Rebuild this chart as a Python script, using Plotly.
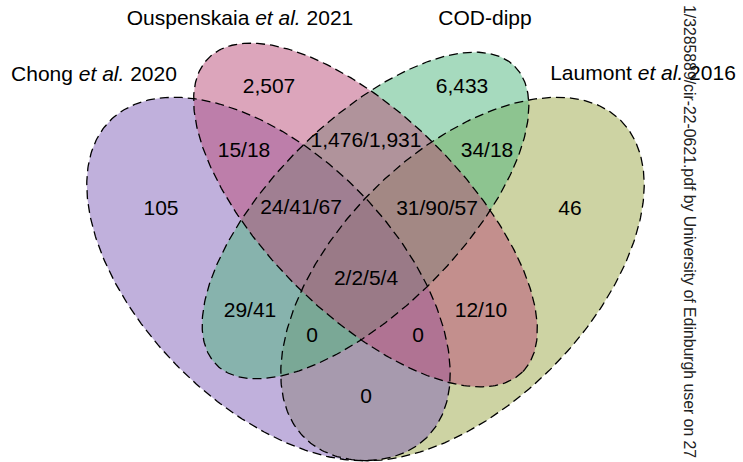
import numpy as np
import plotly.graph_objects as go

# ---- data -------------------------------------------------------------
set_names = [
    "Chong <i>et al.</i> 2020",
    "Ouspenskaia <i>et al.</i> 2021",
    "COD-dipp",
    "Laumont <i>et al.</i> 2016",
]
region_labels = [
    "2,507", "6,433", "105", "46",
    "15/18", "1,476/1,931", "34/18",
    "24/41/67", "31/90/57", "2/2/5/4",
    "29/41", "12/10", "0", "0", "0",
]

# ---- layout of the diagram (pixel space, y downwards) ------------------
label_x = [269, 462, 161, 570, 244, 366, 487, 301, 437, 366, 250, 481, 312, 418, 366]
label_y = [88, 88, 210, 210, 152, 142, 152, 209, 210, 280, 312, 312, 337, 337, 398]

title_x = [94, 240, 485, 643]
title_y = [76, 20, 20, 75]

# ellipse geometry: centre, semi-major, semi-minor, major-axis angle (deg)
ellipses = {
    "Chong":       dict(cx=268.5, cy=279.0, a=224, b=126, ang=45,  color="rgba(129,97,185,0.5)"),
    "Ouspenskaia": dict(cx=365.5, cy=215.0, a=222, b=99,  ang=45,  color="rgba(185,75,119,0.5)"),
    "COD":         dict(cx=365.5, cy=215.5, a=211, b=94,  ang=-45, color="rgba(77,181,125,0.5)"),
    "Laumont":     dict(cx=462.5, cy=279.0, a=224, b=126, ang=-45, color="rgba(155,167,71,0.5)"),
}
draw_order = ["Laumont", "Chong", "COD", "Ouspenskaia"]

W, H = 743, 462
FONT = "Liberation Sans, Arial, sans-serif"


def ellipse_xy(e, n=361):
    t = np.linspace(0, 2 * np.pi, n)
    th = np.deg2rad(e["ang"])
    u = e["a"] * np.cos(t)
    v = e["b"] * np.sin(t)
    x = e["cx"] + u * np.cos(th) - v * np.sin(th)
    y = e["cy"] + u * np.sin(th) + v * np.cos(th)
    return x, y


fig = go.Figure()

# translucent fills
for key in draw_order:
    e = ellipses[key]
    x, y = ellipse_xy(e)
    fig.add_trace(go.Scatter(
        x=x, y=y, mode="lines", fill="toself", fillcolor=e["color"],
        line=dict(width=0), hoverinfo="skip", showlegend=False,
    ))

# dashed outlines on top of all fills
for key in draw_order:
    x, y = ellipse_xy(ellipses[key])
    fig.add_trace(go.Scatter(
        x=x, y=y, mode="lines",
        line=dict(color="black", width=1.3, dash="9px,5px"),
        hoverinfo="skip", showlegend=False,
    ))

# region counts
fig.add_trace(go.Scatter(
    x=label_x, y=label_y, mode="text", text=region_labels,
    textposition="middle center",
    textfont=dict(family=FONT, size=21, color="black"),
    hoverinfo="skip", showlegend=False,
))

# set names
fig.add_trace(go.Scatter(
    x=title_x, y=title_y, mode="text", text=set_names,
    textposition="middle center",
    textfont=dict(family=FONT, size=21, color="black"),
    hoverinfo="skip", showlegend=False,
))

# vertical download stamp along the right edge
fig.add_annotation(
    x=690 / W, y=0.5, xref="paper", yref="paper",
    xanchor="center", yanchor="middle",
    text="1/3285889/cir-22-0621.pdf by University of Edinburgh user on 27",
    textangle=90, showarrow=False, borderpad=0,
    font=dict(family=FONT, size=15.8, color="#222"),
)

fig.update_xaxes(range=[0, W], visible=False, fixedrange=True)
fig.update_yaxes(range=[H, 0], visible=False, fixedrange=True)
fig.update_layout(
    width=W, height=H,
    margin=dict(l=0, r=0, t=0, b=0),
    paper_bgcolor="white", plot_bgcolor="white",
)

fig.write_html("out.html")
